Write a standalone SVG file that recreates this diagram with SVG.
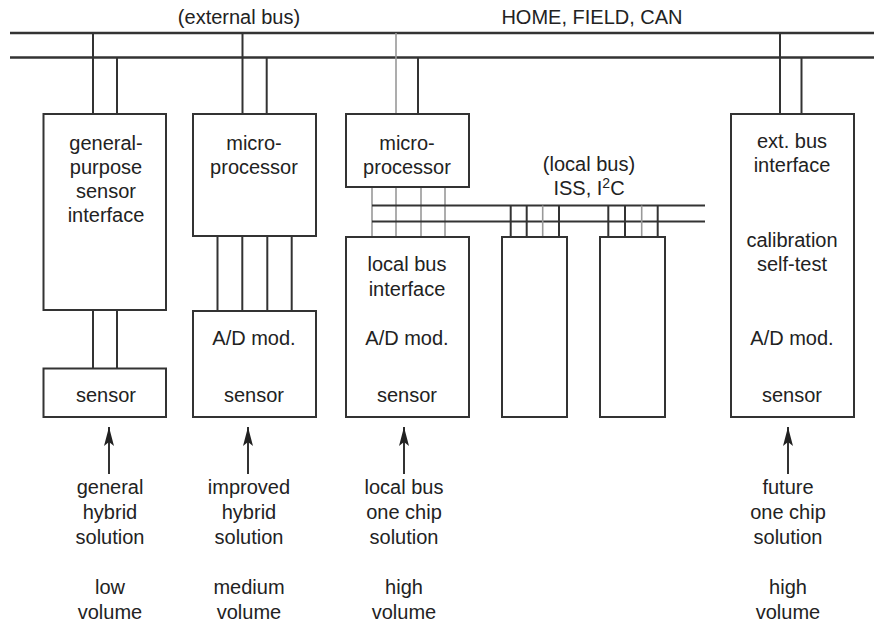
<svg xmlns="http://www.w3.org/2000/svg" width="874" height="624" viewBox="0 0 874 624">
<style>
text{font-family:"Liberation Sans",Arial,sans-serif;font-size:20px;fill:#222;text-anchor:middle}
.box{fill:#fff;stroke:#333;stroke-width:2}
.bus{stroke:#333;stroke-width:2.5;fill:none}
.ln{stroke:#333;stroke-width:2;fill:none}
.gl{stroke:#999;stroke-width:1.6;fill:none}
.ar{stroke:#333;stroke-width:2;fill:none;marker-end:url(#ah)}
</style>
<defs>
<marker id="ah" markerUnits="userSpaceOnUse" markerWidth="19" markerHeight="11" viewBox="0 0 19 11" refX="19" refY="5.5" orient="auto">
<path d="M0,0.5 L19,5.5 L0,10.5 L4,5.5 z" fill="#222"/>
</marker>
</defs>
<rect width="874" height="624" fill="#fff"/>
<g id="labels-top">
<text x="239" y="24">(external bus)</text>
<text x="592" y="24">HOME, FIELD, CAN</text>
<text x="589" y="171">(local bus)</text>
<text x="589" y="195">ISS, I<tspan font-size="14" dy="-7">2</tspan><tspan dy="7">C</tspan></text>
</g>
<g id="connectors">
<line class="bus" x1="10" y1="33" x2="874" y2="33"/>
<line class="bus" x1="10" y1="57.5" x2="874" y2="57.5"/>
<line class="ln" x1="93" y1="33" x2="93" y2="114"/>
<line class="ln" x1="117" y1="57.5" x2="117" y2="114"/>
<line class="ln" x1="242.5" y1="33" x2="242.5" y2="114"/>
<line class="ln" x1="266.7" y1="57.5" x2="266.7" y2="114"/>
<line class="gl" x1="396" y1="33" x2="396" y2="114"/>
<line class="ln" x1="418" y1="57.5" x2="418" y2="114"/>
<line class="ln" x1="780" y1="33" x2="780" y2="114"/>
<line class="ln" x1="801.5" y1="57.5" x2="801.5" y2="114"/>
<line class="ln" x1="93" y1="310" x2="93" y2="368"/>
<line class="ln" x1="117" y1="310" x2="117" y2="368"/>
<line class="ln" x1="217.5" y1="236" x2="217.5" y2="311"/>
<line class="ln" x1="242.3" y1="236" x2="242.3" y2="311"/>
<line class="ln" x1="267.3" y1="236" x2="267.3" y2="311"/>
<line class="ln" x1="291.7" y1="236" x2="291.7" y2="311"/>
<line class="gl" x1="372" y1="187" x2="372" y2="237"/>
<line class="gl" x1="396" y1="187" x2="396" y2="237"/>
<line class="gl" x1="421" y1="187" x2="421" y2="237"/>
<line class="gl" x1="445" y1="187" x2="445" y2="237"/>
<line class="ln" x1="372" y1="205.5" x2="705" y2="205.5"/>
<line class="ln" x1="372" y1="221.5" x2="705" y2="221.5"/>
<line class="ln" x1="510.7" y1="205.5" x2="510.7" y2="237"/>
<line class="ln" x1="526.7" y1="205.5" x2="526.7" y2="237"/>
<line class="gl" x1="542.7" y1="205.5" x2="542.7" y2="237"/>
<line class="ln" x1="559" y1="205.5" x2="559" y2="237"/>
<line class="ln" x1="608.3" y1="205.5" x2="608.3" y2="237"/>
<line class="ln" x1="625" y1="205.5" x2="625" y2="237"/>
<line class="gl" x1="641.7" y1="205.5" x2="641.7" y2="237"/>
<line class="ln" x1="657.7" y1="205.5" x2="657.7" y2="237"/>
<line class="ar" x1="109" y1="474" x2="109" y2="427"/>
<line class="ar" x1="248" y1="474" x2="248" y2="427"/>
<line class="ar" x1="404" y1="474" x2="404" y2="427"/>
<line class="ar" x1="788" y1="474" x2="788" y2="427"/>
</g>
<g id="gp-interface">
<rect class="box" x="43.5" y="114" width="122.5" height="196"/>
<text x="106" y="150">general-</text>
<text x="106" y="174">purpose</text>
<text x="106" y="198">sensor</text>
<text x="106" y="222">interface</text>
</g>
<g id="sensor1">
<rect class="box" x="43.5" y="368.5" width="122.5" height="48.5"/>
<text x="106" y="402">sensor</text>
</g>
<g id="micro1">
<rect class="box" x="193" y="114" width="123" height="122"/>
<text x="254" y="150">micro-</text>
<text x="254" y="174">processor</text>
</g>
<g id="ad2">
<rect class="box" x="193" y="311" width="123" height="106"/>
<text x="254" y="345">A/D mod.</text>
<text x="254" y="402">sensor</text>
</g>
<g id="micro2">
<rect class="box" x="346" y="114" width="123" height="73"/>
<text x="407" y="150">micro-</text>
<text x="407" y="174">processor</text>
</g>
<g id="localbus-chip">
<rect class="box" x="346" y="237" width="123" height="180"/>
<text x="407" y="271">local bus</text>
<text x="407" y="296">interface</text>
<text x="407" y="345">A/D mod.</text>
<text x="407" y="402">sensor</text>
</g>
<g id="blank1">
<rect class="box" x="502" y="237" width="65" height="180"/>
</g>
<g id="blank2">
<rect class="box" x="600" y="237" width="65" height="180"/>
</g>
<g id="future-chip">
<rect class="box" x="731" y="114" width="123" height="303"/>
<text x="792" y="148">ext. bus</text>
<text x="792" y="172">interface</text>
<text x="792" y="247">calibration</text>
<text x="792" y="271">self-test</text>
<text x="792" y="345">A/D mod.</text>
<text x="792" y="402">sensor</text>
</g>
<g id="captions">
<text x="110" y="494">general</text>
<text x="110" y="519">hybrid</text>
<text x="110" y="544">solution</text>
<text x="110" y="594">low</text>
<text x="110" y="619">volume</text>
<text x="249" y="494">improved</text>
<text x="249" y="519">hybrid</text>
<text x="249" y="544">solution</text>
<text x="249" y="594">medium</text>
<text x="249" y="619">volume</text>
<text x="404" y="494">local bus</text>
<text x="404" y="519">one chip</text>
<text x="404" y="544">solution</text>
<text x="404" y="594">high</text>
<text x="404" y="619">volume</text>
<text x="788" y="494">future</text>
<text x="788" y="519">one chip</text>
<text x="788" y="544">solution</text>
<text x="788" y="594">high</text>
<text x="788" y="619">volume</text>
</g>
</svg>
